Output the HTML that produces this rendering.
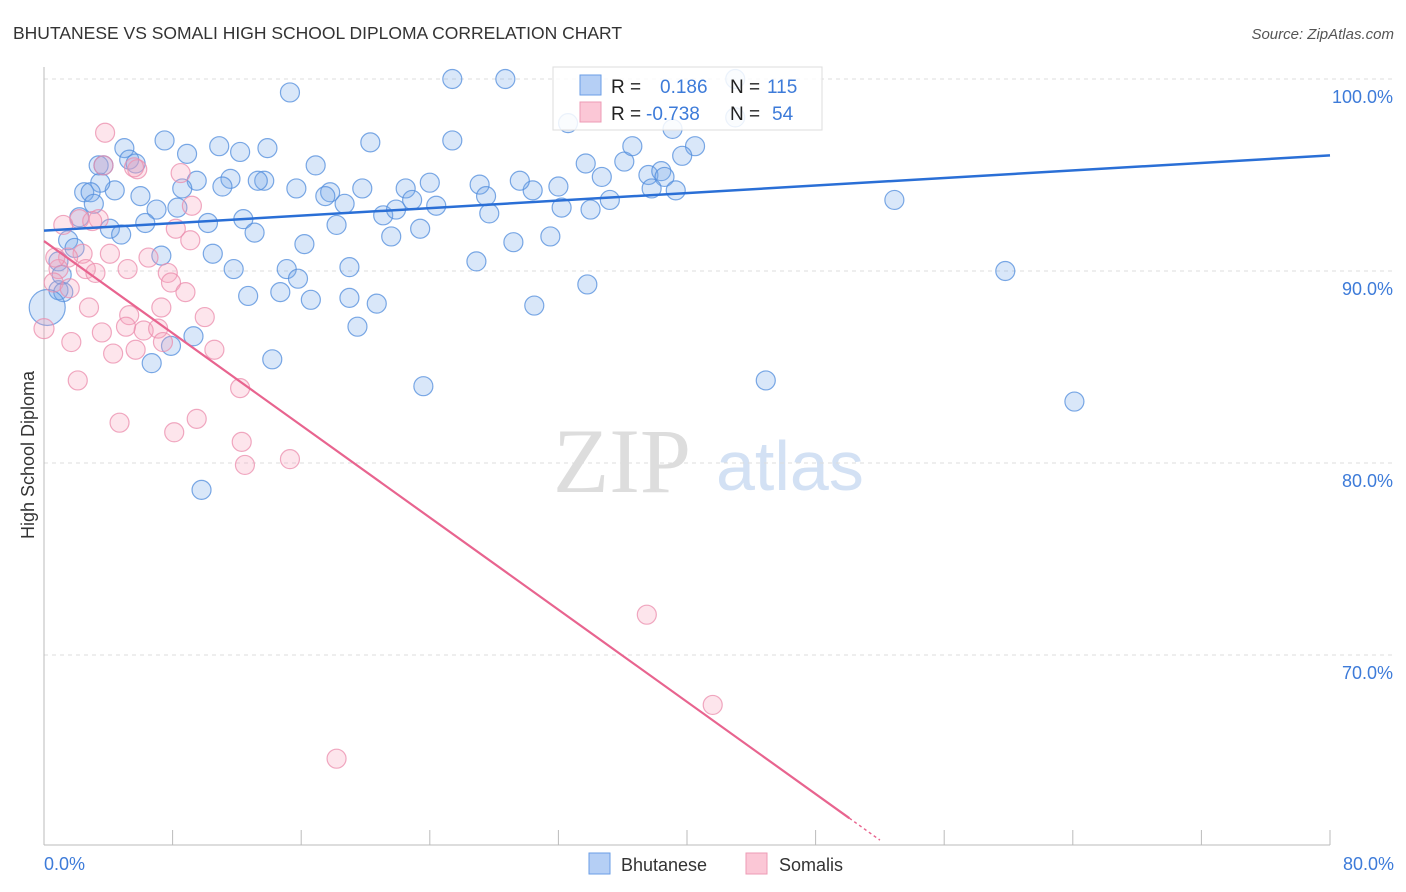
<!DOCTYPE html>
<html><head><meta charset="utf-8"><style>
body{margin:0;background:#fff;font-family:"Liberation Sans",sans-serif;}
svg{display:block}
</style></head><body>
<svg id="chart" width="1406" height="892" xmlns="http://www.w3.org/2000/svg">
<text x="13" y="39" font-size="17.5" fill="#333">BHUTANESE VS SOMALI HIGH SCHOOL DIPLOMA CORRELATION CHART</text>
<text x="1394" y="39" font-size="15" fill="#555" font-style="italic" text-anchor="end">Source: ZipAtlas.com</text>
<g><text x="553" y="492" font-size="92" font-family="Liberation Serif" fill="#ddd">ZIP</text><text x="716" y="490" font-size="70" fill="#d3e1f4">atlas</text></g>
<g id="grid"></g><g id="axes"></g><g id="pts"></g><g id="lines"></g>
<text transform="translate(34,455) rotate(-90)" font-size="18" fill="#333" text-anchor="middle">High School Diploma</text>
<g>
<rect x="553" y="67" width="269" height="63" fill="#fff" fill-opacity="0.85" stroke="#ddd"/>
<rect x="580" y="75" width="21" height="20" fill="#b5cff5" stroke="#6a9ee6"/>
<rect x="580" y="102" width="21" height="20" fill="#fbc7d6" stroke="#ee9bb5"/>
<text x="611" y="93" font-size="19" fill="#222">R = </text><text x="660" y="93" font-size="19" fill="#3d7bd9">0.186</text>
<text x="730" y="93" font-size="19" fill="#222">N = </text><text x="767" y="93" font-size="19" fill="#3d7bd9">115</text>
<text x="611" y="120" font-size="19" fill="#222">R = </text><text x="646" y="120" font-size="19" fill="#3d7bd9">-0.738</text>
<text x="730" y="120" font-size="19" fill="#222">N = </text><text x="772" y="120" font-size="19" fill="#3d7bd9">54</text>
</g>
<g>
<rect x="589" y="853" width="21" height="21" fill="#b5cff5" stroke="#6a9ee6"/>
<text x="621" y="871" font-size="18" fill="#333">Bhutanese</text>
<rect x="746" y="853" width="21" height="21" fill="#fbc7d6" stroke="#ee9bb5"/>
<text x="779" y="871" font-size="18" fill="#333">Somalis</text>
</g>
</svg>
<script>
const blueX=[15.3,25.4,28.7,43.0,7.5,5.0,10.9,12.2,13.9,20.3,25.4,8.9,5.3,5.7,16.9,33.7,36.1,36.6,39.1,40.5,39.7,34.7,37.6,38.4,38.6,37.8,39.3,35.2,34.0,30.4,32.0,29.6,27.1,27.5,27.7,24.0,22.5,22.9,24.4,21.1,21.9,19.8,18.7,17.8,17.5,15.7,13.7,13.3,11.6,11.1,9.5,8.6,8.3,7.0,6.0,4.4,3.5,2.5,2.9,3.1,4.1,4.8,6.3,10.2,12.4,13.1,18.2,16.2,21.6,23.4,29.2,31.5,32.2,52.9,7.3,10.5,11.8,15.1,15.8,16.6,19.0,19.0,14.7,12.7,20.7,19.5,9.3,7.9,6.7,14.2,26.9,30.5,33.8,23.6,9.8,44.9,59.8,64.1,1.5,1.9,0.9,1.1,0.9,1.2,2.2,3.4,3.7,43.0,32.6,0.2];
const blueY=[99.3,100,100,100,96.8,96.4,96.5,96.2,96.4,96.7,96.8,96.1,95.8,95.6,95.5,95.6,95.7,96.5,97.4,96.5,96.0,94.9,95.0,95.2,94.9,94.3,94.2,93.7,93.2,94.2,94.4,94.7,94.5,93.9,93.0,94.6,94.3,93.7,93.4,92.9,93.2,94.3,93.5,94.1,93.9,94.3,94.7,94.7,94.8,94.4,94.7,94.3,93.3,93.2,93.9,94.2,94.6,94.1,94.1,93.5,92.2,91.9,92.5,92.5,92.7,92.0,92.4,91.4,91.8,92.2,91.5,91.8,93.3,93.7,90.8,90.9,90.1,90.1,89.6,88.5,88.6,90.2,88.9,88.7,88.3,87.1,86.6,86.1,85.2,85.4,90.5,88.2,89.3,84.0,78.6,84.3,90.0,83.2,91.6,91.2,90.5,89.8,89.0,88.9,92.8,95.5,95.5,98.0,97.7,88.1];
const pinkX=[3.8,3.7,5.8,8.5,9.2,2.2,3.4,1.2,3.0,8.2,9.1,2.4,4.1,6.5,1.5,5.2,7.7,0.9,2.6,3.2,0.6,1.6,7.9,8.8,2.8,5.3,7.3,10.0,3.6,5.1,6.2,7.1,0,1.7,4.3,5.7,7.4,10.6,2.1,12.2,4.7,8.1,9.5,12.3,12.5,15.3,37.5,41.6,18.2,5.6,0.7];
const pinkY=[97.2,95.5,95.3,95.1,93.4,92.7,92.7,92.4,92.6,92.2,91.6,90.9,90.9,90.7,90.7,90.1,89.9,90.1,90.1,89.9,89.4,89.1,89.4,88.9,88.1,87.7,88.1,87.6,86.8,87.1,86.9,87.0,87.0,86.3,85.7,85.9,86.3,85.9,84.3,83.9,82.1,81.6,82.3,81.1,79.9,80.2,72.1,67.4,64.6,95.4,90.7];
const blueTrend=[92.1,0.049]; // intercept, slope
const pinkTrend=[91.56,-0.6];
const xTickLabels=["0.0%","80.0%"];
const yTicks=[100,90,80,70];
const yTickLabels=["100.0%","90.0%","80.0%","70.0%"];
const X=v=>44+v*1286/80, Y=v=>79+(100-v)*19.2;
const NS="http://www.w3.org/2000/svg";
function mk(tag,attrs,parent){const e=document.createElementNS(NS,tag);for(const k in attrs)e.setAttribute(k,attrs[k]);document.getElementById(parent).appendChild(e);return e;}
yTicks.forEach((t,i)=>{
 const g=mk('line',{x1:44,x2:1394,y1:Y(t),y2:Y(t),stroke:'#ddd','stroke-dasharray':'4,4'},'grid');
 
 
 const l=mk('text',{x:1393,y:Y(t)+24,'font-size':18,fill:'#3d7bd9','text-anchor':'end'},'axes');
 l.textContent=yTickLabels[i];
 
 
});
const ya=mk('line',{x1:44,x2:44,y1:67,y2:845,stroke:'#bbb'},'axes');


const xa=mk('line',{x1:44,x2:1330,y1:845,y2:845,stroke:'#bbb'},'axes');


for(let i=0;i<=10;i++){
 const t=mk('line',{x1:X(i*8),x2:X(i*8),y1:830,y2:845,stroke:'#bbb'},'axes');
 
 
}
const xl0=mk('text',{x:44,y:870,'font-size':18,fill:'#3d7bd9'},'axes');xl0.textContent=xTickLabels[0];


const xl1=mk('text',{x:1394,y:870,'font-size':18,fill:'#3d7bd9','text-anchor':'end'},'axes');xl1.textContent=xTickLabels[1];


blueX.forEach((v,i)=>{
 const big=i===blueX.length-1;
 const c=mk('circle',{cx:X(v),cy:Y(blueY[i]),r:big?18:9.5,fill:'rgba(120,170,235,0.28)',stroke:'rgba(80,140,220,0.75)','stroke-width':1.2},'pts');
 
 
});
pinkX.forEach((v,i)=>{
 const c=mk('circle',{cx:X(v),cy:Y(pinkY[i]),r:v===0?10:9.5,fill:'rgba(248,160,188,0.28)',stroke:'rgba(235,140,172,0.75)','stroke-width':1.2},'pts');
 
 
});
const bl=mk('line',{x1:X(0),y1:Y(blueTrend[0]),x2:X(80),y2:Y(blueTrend[0]+80*blueTrend[1]),stroke:'#2a6fd6','stroke-width':2.5},'lines');


const pEnd=50.1, pDash=52;
const pl=mk('line',{x1:X(0),y1:Y(pinkTrend[0]),x2:X(pEnd),y2:Y(pinkTrend[0]+pEnd*pinkTrend[1]),stroke:'#e8648f','stroke-width':2.2},'lines');


const pd=mk('line',{x1:X(pEnd),y1:Y(pinkTrend[0]+pEnd*pinkTrend[1]),x2:X(pDash),y2:Y(pinkTrend[0]+pDash*pinkTrend[1]),stroke:'#e8648f','stroke-width':1.5,'stroke-dasharray':'3,3'},'lines');


</script>
</body></html>
